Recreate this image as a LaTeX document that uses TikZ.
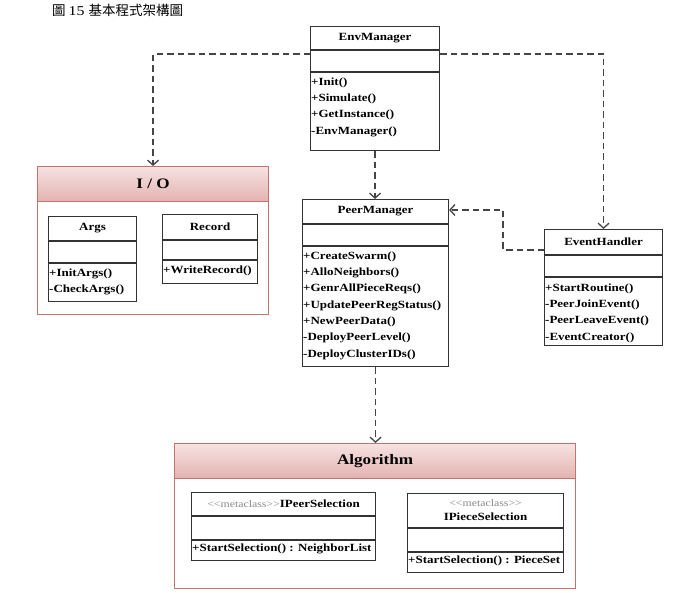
\documentclass[tikz,border=0pt]{standalone}
\usepackage{fontspec}
\setmainfont{Liberation Serif}[FakeStretch=1.18]
\newfontfamily\cjk{Noto Sans CJK TC}
\usepackage{xcolor}
\usetikzlibrary{arrows.meta, positioning, calc}

\definecolor{umlline}{HTML}{333333}
\definecolor{depline}{HTML}{454545}
\definecolor{pkgline}{HTML}{C4736F}
\definecolor{pkgtop}{HTML}{F6E2E1}
\definecolor{pkgbot}{HTML}{E3B3B1}
\definecolor{metagray}{HTML}{8A8A8A}

\newcommand{\metatag}{{\fontsize{10}{12}\selectfont\mdseries\color{metagray}<\kern0pt<metaclass>\kern0pt>}}

\begin{document}
\begin{tikzpicture}[
  x=1pt, y=-1pt,
  classbox/.style={draw=umlline, line width=1.1pt, anchor=north west, inner sep=0pt, fill=white},
  pkgbox/.style={draw=pkgline, line width=1.1pt, anchor=north west, inner sep=0pt, fill=white},
  pkghead/.style={draw=pkgline, line width=1.1pt, anchor=north west, inner sep=0pt,
                  top color=pkgtop, bottom color=pkgbot,
                  font=\fontsize{14.5}{16}\selectfont\bfseries},
  classname/.style={font=\fontsize{11}{13}\selectfont\bfseries, inner sep=0pt, align=center},
  ops/.style={font=\fontsize{11}{16.3}\selectfont\bfseries, inner sep=0pt, anchor=north west, align=left},
  sep/.style={draw=umlline, line width=1.1pt},
  dep/.style={draw=depline, line width=1.3pt, dash pattern=on 6.5pt off 4pt,
              -{Straight Barb[length=5pt, width=11pt]}}
]
\useasboundingbox (0,0) rectangle (700,593);

% caption
\node[anchor=west, inner sep=0pt, font=\fontsize{13.5}{15}\selectfont] (caption) at (52,10)
  {\cjk 圖\ \rmfamily 15\ \cjk 基本程式架構圖};

% packages
\node[pkgbox, minimum width=231pt, minimum height=148pt] (io) at (37,166) {};
\node[pkghead, minimum width=231pt, minimum height=35pt] (io-head) at (io.north west) {I / O};
\node[pkgbox, minimum width=401pt, minimum height=145pt] (alg) at (174,443) {};
\node[pkghead, minimum width=401pt, minimum height=35pt] (alg-head) at (alg.north west) {Algorithm};

% EnvManager
\node[classbox, minimum width=129pt, minimum height=124pt] (env) at (310,26) {};
\draw[sep] ($(env.north west)+(0,24)$) -- ($(env.north east)+(0,24)$);
\draw[sep] ($(env.north west)+(0,46)$) -- ($(env.north east)+(0,46)$);
\node[classname] (env-name) at ($(env.north)+(0,12)$) {EnvManager};
\node[ops] (env-ops) at ($(env.north west)+(1,51.5)$)
  {+Init()\\+Simulate()\\+GetInstance()\\-EnvManager()};

% PeerManager
\node[classbox, minimum width=146pt, minimum height=167pt] (peer) at (302,199) {};
\draw[sep] ($(peer.north west)+(0,25)$) -- ($(peer.north east)+(0,25)$);
\draw[sep] ($(peer.north west)+(0,47)$) -- ($(peer.north east)+(0,47)$);
\node[classname] (peer-name) at ($(peer.north)+(0,12.5)$) {PeerManager};
\node[ops] (peer-ops) at ($(peer.north west)+(1,52.5)$)
  {+CreateSwarm()\\+AlloNeighbors()\\+GenrAllPieceReqs()\\+UpdatePeerRegStatus()\\%
   +NewPeerData()\\-DeployPeerLevel()\\-DeployClusterIDs()};

% EventHandler
\node[classbox, minimum width=118pt, minimum height=116pt] (evh) at (544,229) {};
\draw[sep] ($(evh.north west)+(0,26)$) -- ($(evh.north east)+(0,26)$);
\draw[sep] ($(evh.north west)+(0,48)$) -- ($(evh.north east)+(0,48)$);
\node[classname] (evh-name) at ($(evh.north)+(0,13)$) {EventHandler};
\node[ops] (evh-ops) at ($(evh.north west)+(1,54.5)$)
  {+StartRoutine()\\-PeerJoinEvent()\\-PeerLeaveEvent()\\-EventCreator()};

% Args
\node[classbox, minimum width=88pt, minimum height=85pt] (args) at (48,216) {};
\draw[sep] ($(args.north west)+(0,25)$) -- ($(args.north east)+(0,25)$);
\draw[sep] ($(args.north west)+(0,47)$) -- ($(args.north east)+(0,47)$);
\node[classname] (args-name) at ($(args.north)+(0,12.5)$) {Args};
\node[ops] (args-ops) at ($(args.north west)+(1,52.5)$) {+InitArgs()\\-CheckArgs()};

% Record
\node[classbox, minimum width=95pt, minimum height=69pt] (rec) at (162,214) {};
\draw[sep] ($(rec.north west)+(0,26)$) -- ($(rec.north east)+(0,26)$);
\draw[sep] ($(rec.north west)+(0,46)$) -- ($(rec.north east)+(0,46)$);
\node[classname] (rec-name) at ($(rec.north)+(0,13)$) {Record};
\node[ops] (rec-ops) at ($(rec.north west)+(1,51.8)$) {+WriteRecord()};

% IPeerSelection
\node[classbox, minimum width=184pt, minimum height=68pt] (ipeer) at (191,492) {};
\draw[sep] ($(ipeer.north west)+(0,24)$) -- ($(ipeer.north east)+(0,24)$);
\draw[sep] ($(ipeer.north west)+(0,48)$) -- ($(ipeer.north east)+(0,48)$);
\node[classname] (ipeer-name) at ($(ipeer.north)+(0,12)$) {\metatag IPeerSelection};
\node[ops] (ipeer-ops) at ($(ipeer.north west)+(1,51.5)$) {+StartSelection() : NeighborList};

% IPieceSelection
\node[classbox, minimum width=156pt, minimum height=79pt] (ipiece) at (407,493) {};
\draw[sep] ($(ipiece.north west)+(0,35)$) -- ($(ipiece.north east)+(0,35)$);
\draw[sep] ($(ipiece.north west)+(0,59)$) -- ($(ipiece.north east)+(0,59)$);
\node[classname] (ipiece-name) at ($(ipiece.north)+(0,17.5)$) {\metatag\\[1pt]IPieceSelection};
\node[ops] (ipiece-ops) at ($(ipiece.north west)+(1,62.5)$) {+StartSelection() : PieceSet};

% dependencies
\coordinate (env-out) at ($(env.north west)+(0,28)$);
\coordinate (env-out2) at ($(env.north east)+(0,28)$);
\coordinate (evh-out) at ($(evh.north west)+(0,21)$);
\coordinate (peer-in) at ($(peer.north east)+(0,11)$);
\draw[dep] (env-out) -| (io.north);
\draw[dep] (env-out2) -| (evh.north);
\draw[dep] (env.south) -- (env.south |- peer.north);
\draw[dep] (evh-out) -- ++(-41,0) |- (peer-in);
\draw[dep] (peer.south) -- (peer.south |- alg.north);
\end{tikzpicture}
\end{document}
